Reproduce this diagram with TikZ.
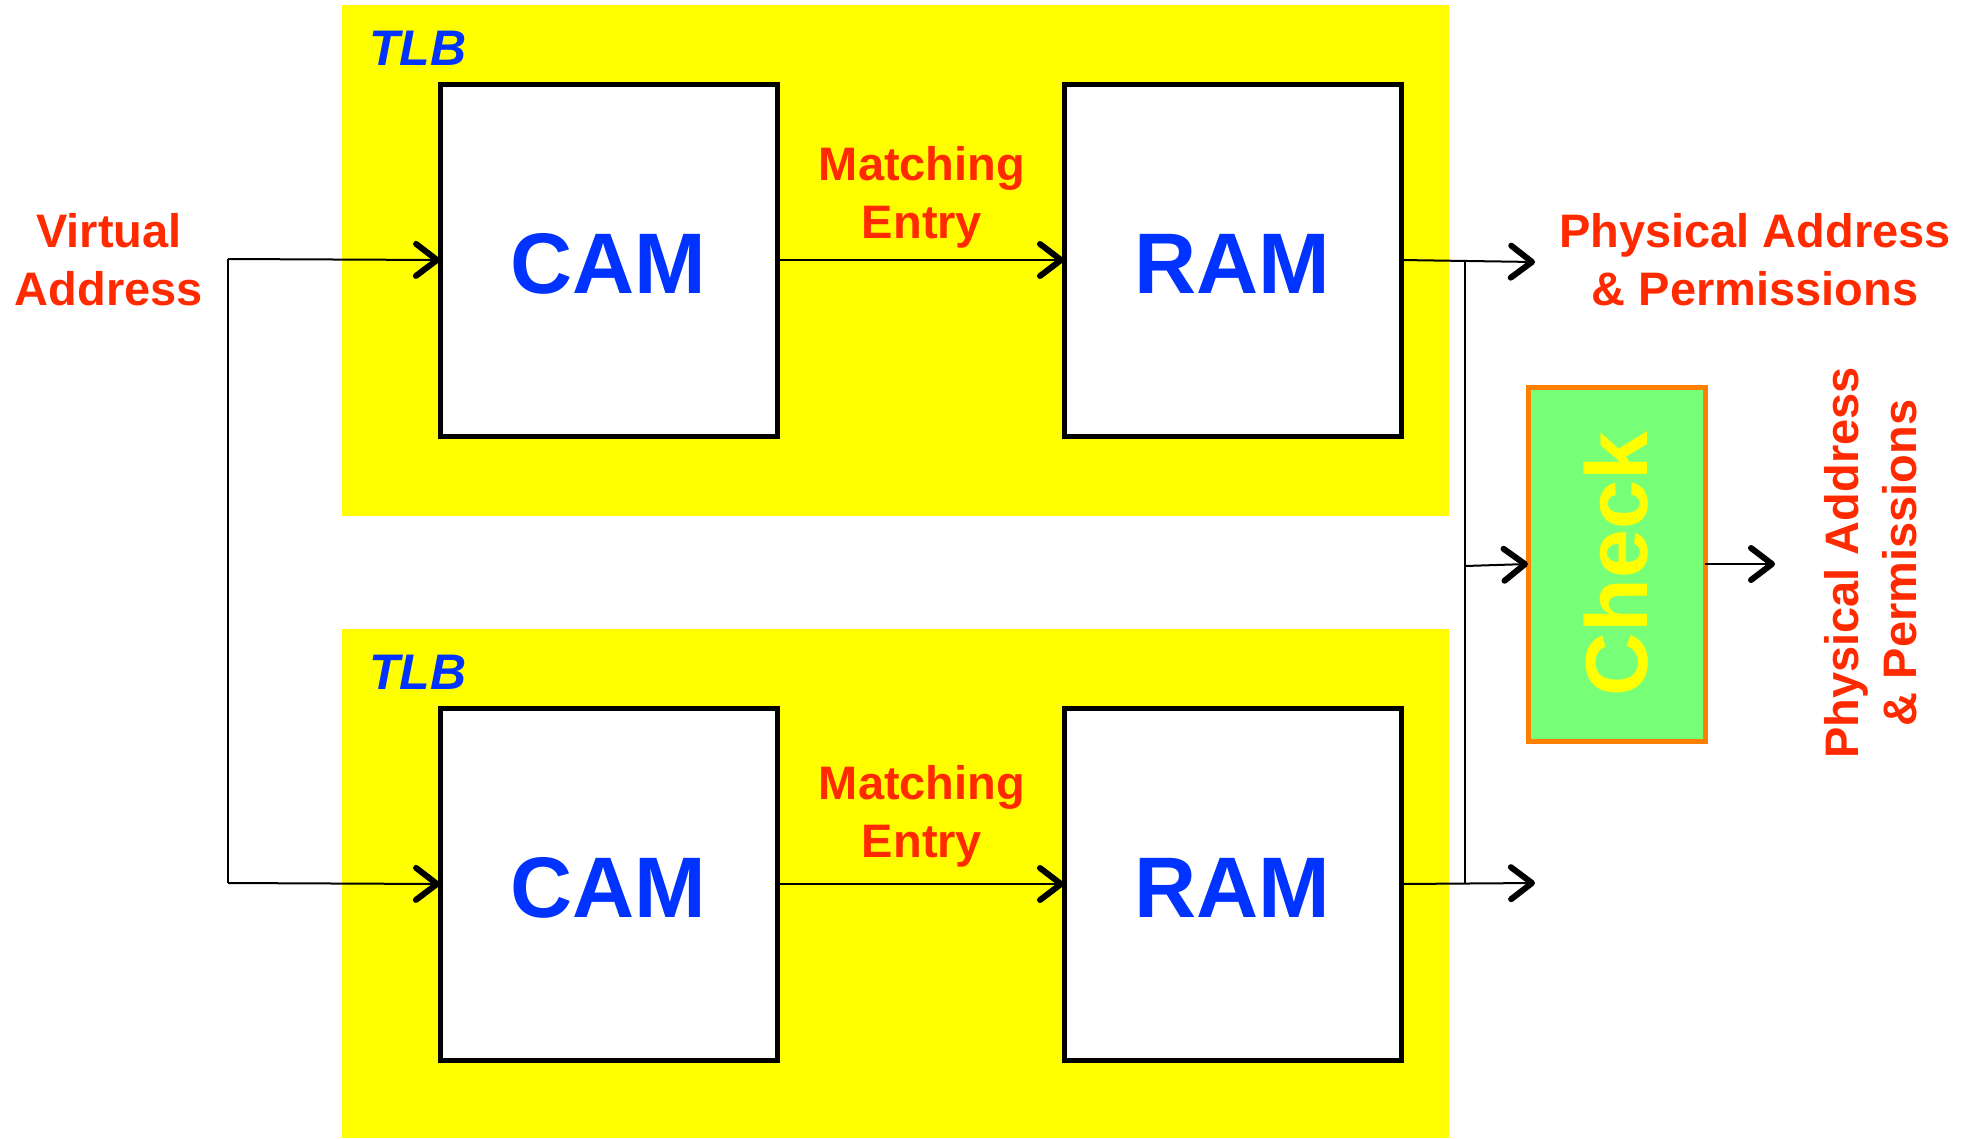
\documentclass[tikz,border=0pt]{standalone}
\usepackage{fontspec}
\setmainfont{Liberation Sans}
\usetikzlibrary{arrows.meta}
\definecolor{tred}{HTML}{FF2A00}
\definecolor{tblue}{HTML}{0033FF}
\definecolor{tyellow}{HTML}{FFFF00}
\definecolor{tgreen}{HTML}{77FF77}
\definecolor{torange}{HTML}{FF7F00}
\tikzset{
  tlbarea/.style={fill=tyellow, draw=none, minimum width=1107pt, minimum height=510pt, inner sep=0pt, outer sep=0pt},
  blockbox/.style={draw=black, line width=5pt, fill=white, minimum width=337pt, minimum height=352pt, inner sep=0pt, outer sep=0pt},
  blocktext/.style={font=\fontsize{86}{86}\selectfont\bfseries, text=tblue, inner sep=0pt},
  checkbox/.style={draw=torange, line width=5pt, fill=tgreen, minimum width=177pt, minimum height=354pt, inner sep=0pt, outer sep=0pt},
  lbl/.style={text=tred, font=\fontsize{47}{58}\selectfont\bfseries, align=center, inner sep=0pt},
  tlblbl/.style={text=tblue, font=\fontsize{50}{50}\selectfont\bfseries\itshape, inner sep=0pt},
  conn/.style={line width=2pt, draw=black, -{Straight Barb[length=21pt,width=32pt,line width=6pt,round]}},
  wire/.style={line width=2pt, draw=black},
}
\begin{document}
\begin{tikzpicture}[x=1pt,y=-1pt]
\useasboundingbox (0,0) rectangle (1972,1138);
% TLB areas
\node[tlbarea, minimum height=511pt] (tlbT) at (895.5,260.5) {};
\node[tlbarea, minimum height=509pt] (tlbB) at (895.5,883.5) {};
\node[tlblbl, anchor=west] (tlbTl) at (369,48) {TLB};
\node[tlblbl, anchor=west] (tlbBl) at (369,672) {TLB};
% blocks
\node[blockbox] (camT) at (608.5,260) {};
\node[blockbox] (ramT) at (1232.5,260) {};
\node[blockbox] (camB) at (608.5,884) {};
\node[blockbox] (ramB) at (1232.5,884) {};
\node[blocktext] (camTt) at (608.5,264) {CAM};
\node[blocktext] (ramTt) at (1232.5,264) {RAM};
\node[blocktext] (camBt) at (608.5,888) {CAM};
\node[blocktext] (ramBt) at (1232.5,888) {RAM};
\node[checkbox] (chk) at (1616.5,564) {};
\node[rotate=90, text=tyellow, font=\fontsize{88}{88}\selectfont\bfseries, inner sep=0pt] (chkt) at (chk.center) {Check};
% labels
\node[lbl] (va) at (109,260) {Virtual\\Address};
\node[lbl] (meT) at (922,197) {Matching\\Entry};
\node[lbl] (meB) at (922,816) {Matching\\Entry};
\node[lbl] (paT) at (1755,260) {Physical Address\\\& Permissions};
\node[lbl, rotate=90] (paR) at (1871,563) {Physical Address\\\& Permissions};
% connectors
\coordinate (vaTop) at (228,259);
\coordinate (vaBot) at (228,883);
\draw[wire] (vaTop) -- (vaBot);
\draw[conn] (vaTop) -- (camT.west);
\draw[conn] (vaBot) -- (camB.west);
\draw[conn] (camT.east) -- (ramT.west);
\draw[conn] (camB.east) -- (ramB.west);
\coordinate (outT) at (1535,262);
\coordinate (outB) at (1535,883);
\draw[conn] (ramT.east) -- (outT);
\draw[conn] (ramB.east) -- (outB);
\coordinate (busT) at (1465,260);
\coordinate (busB) at (1465,884);
\draw[wire] (busT) -- (busB);
\coordinate (busM) at (1465,566);
\draw[conn] (busM) -- (chk.west);
\coordinate (chkOut) at (1775,564);
\draw[conn] (chk.east) -- (chkOut);
\end{tikzpicture}
\end{document}
